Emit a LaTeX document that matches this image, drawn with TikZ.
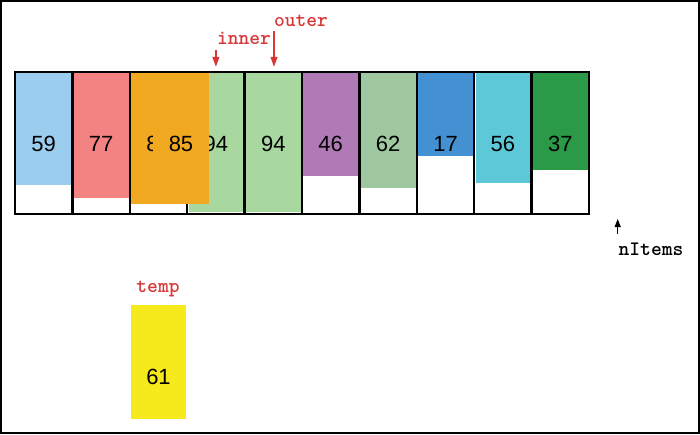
\documentclass[tikz,border=0pt]{standalone}
\usepackage{fontspec}
\setmainfont{Liberation Sans}
\usetikzlibrary{arrows.meta}
\definecolor{cA}{RGB}{155,206,238}
\definecolor{cB}{RGB}{243,130,130}
\definecolor{cOr}{RGB}{242,169,34}
\definecolor{cGr}{RGB}{168,216,160}
\definecolor{cPu}{RGB}{176,122,182}
\definecolor{cSa}{RGB}{160,200,160}
\definecolor{cBl}{RGB}{67,144,210}
\definecolor{cCy}{RGB}{92,200,216}
\definecolor{cDg}{RGB}{42,154,72}
\definecolor{cYe}{RGB}{247,234,28}
\definecolor{cRd}{RGB}{214,56,56}
\tikzset{
  cellbox/.style={draw=black, line width=2.5pt, minimum width=57.4pt, minimum height=142pt, inner sep=0pt},
  numtxt/.style={inner sep=0pt, font=\fontsize{22}{22}\selectfont},
  ptr/.style={inner sep=0pt, anchor=base, font=\ttfamily\bfseries\fontsize{20.5}{20.5}\selectfont},
  redptr/.style={ptr, text=cRd},
  redarrow/.style={draw=cRd, line width=1.2pt, -{Triangle[width=7pt,length=10pt]}},
  blkarrow/.style={draw=black, line width=1.2pt, -{Triangle[width=6pt,length=8pt]}}
}
\begin{document}
\begin{tikzpicture}[x=1pt,y=-1pt]
\useasboundingbox (0,0) rectangle (700,434);
\draw[line width=2pt] (1,1) rectangle (699,433);
% bar fills
\foreach \i/\b/\c in {0/185/cA,1/197.5/cB,3/211.5/cGr,4/211.5/cGr,5/176/cPu,6/187.5/cSa,7/155.5/cBl,8/183/cCy,9/169.5/cDg}{
  \fill[\c] ({15+57.4*\i+1.3},73.3) rectangle ({15+57.4*(\i+1)-1.3},\b);
}
% cells
\foreach \i in {0,...,9}{
  \node[cellbox] (c\i) at ({15+57.4*\i+28.7},143) {};
}
\foreach \i/\v in {0/59,1/77,3/94,4/94,5/46,6/62,7/17,8/56,9/37}{
  \node[numtxt] (v\i) at ([yshift=-1pt]c\i.center) {\v};
}
\coordinate (c10) at ({15+57.4*10+28.7},214);
% moving bar
\node[fill=cOr, minimum width=78pt, minimum height=130.7pt, inner sep=0pt] (mv) at (170,138.65) {};
\begin{scope}
\clip (140,100) rectangle (152,180);
\node[numtxt] (old) at ([yshift=-1pt]c2.center) {85};
\end{scope}
\node[numtxt] (mvt) at (181,144) {85};
% pointers
\node[redptr] (outer) at (301,26.5) {outer};
\node[redptr] (inner) at (244,44.5) {inner};
\coordinate (outs) at (274,31);
\coordinate (ins) at (c3.north |- 0,50);
\draw[redarrow] (ins) -- ([yshift=4pt]c3.north);
\draw[redarrow] (outs) -- ([yshift=4pt]c4.north -| outs);
\node[ptr] (nit) at (651,255) {nItems};
\draw[blkarrow] ([yshift=-20pt]c10) -- ([yshift=-5pt]c10);
% temp
\node[redptr] (templ) at (158,292) {temp};
\node[fill=cYe, minimum width=55pt, minimum height=114pt, inner sep=0pt] (temp) at (158.5,362) {};
\node[numtxt] (tv) at (158.5,377) {61};
\end{tikzpicture}
\end{document}
